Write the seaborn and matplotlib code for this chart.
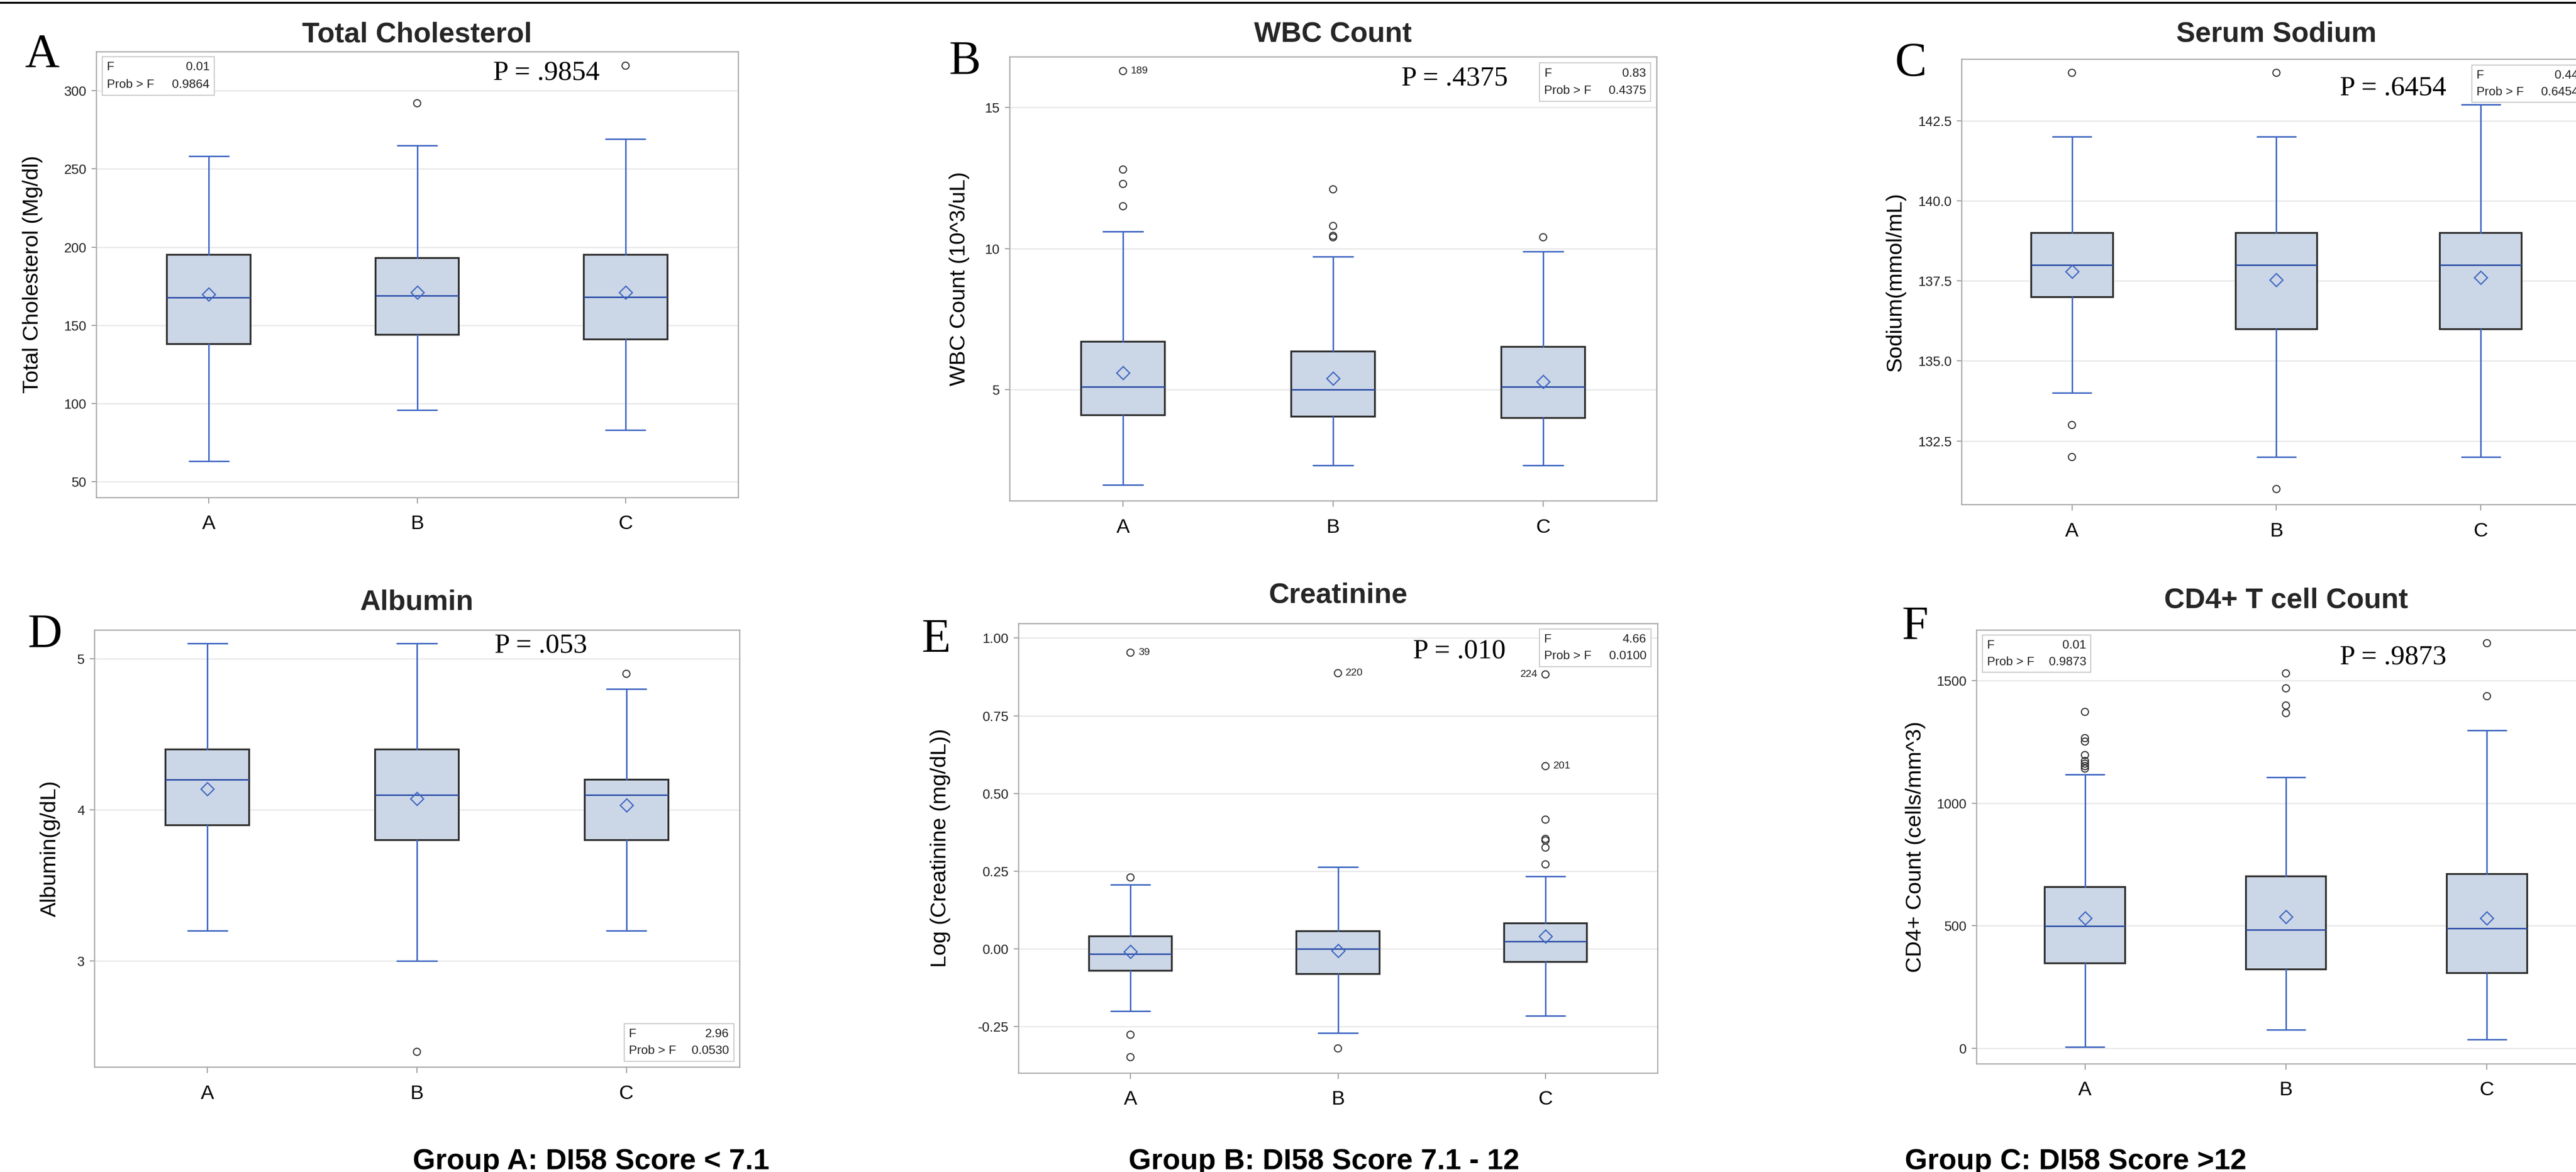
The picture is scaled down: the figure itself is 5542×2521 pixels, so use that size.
import numpy as np
import pandas as pd
import matplotlib
matplotlib.use("Agg")
import matplotlib.pyplot as plt
from matplotlib.patches import Rectangle
from matplotlib.lines import Line2D
import seaborn as sns

# ---- data ----
groups = ["A", "B", "C"]

# Total Cholesterol
chol_lo = [63.2, 96, 83]
chol_q1 = [138.2, 144, 141]
chol_med = [167.7, 169, 168]
chol_q3 = [195, 193, 195]
chol_hi = [258.2, 265, 269]
chol_mean = [170, 171, 171]
chol_out = [[], [292], [316]]

# WBC Count
wbc_lo = [1.62, 2.31, 2.31]
wbc_q1 = [4.1, 4.05, 4.0]
wbc_med = [5.1, 5.0, 5.1]
wbc_q3 = [6.7, 6.35, 6.52]
wbc_hi = [10.6, 9.71, 9.9]
wbc_mean = [5.6, 5.4, 5.28]
wbc_out = [[16.29, 12.8, 12.29, 11.5], [12.1, 10.8, 10.45, 10.4], [10.4]]
wbc_ids = [["189", "", "", ""], ["", "", "", ""], [""]]

# Serum Sodium
na_lo = [134, 132, 132]
na_q1 = [137, 136, 136]
na_med = [138, 138, 138]
na_q3 = [139, 139, 139]
na_hi = [142, 142, 143]
na_mean = [137.8, 137.53, 137.6]
na_out = [[144, 133, 132], [144, 131], []]

# Albumin
alb_lo = [3.2, 3.0, 3.2]
alb_q1 = [3.9, 3.8, 3.8]
alb_med = [4.2, 4.1, 4.1]
alb_q3 = [4.4, 4.4, 4.2]
alb_hi = [5.1, 5.1, 4.8]
alb_mean = [4.14, 4.075, 4.03]
alb_out = [[], [2.4], [4.9]]

# Creatinine (log)
cr_lo = [-0.20, -0.27, -0.215]
cr_q1 = [-0.07, -0.08, -0.042]
cr_med = [-0.016, 0.0, 0.024]
cr_q3 = [0.04, 0.057, 0.083]
cr_hi = [0.207, 0.263, 0.233]
cr_mean = [-0.008, -0.005, 0.04]
cr_out = [[0.953, 0.23, -0.276, -0.348], [0.887, -0.32],
          [0.883, 0.588, 0.416, 0.354, 0.349, 0.326, 0.272]]
cr_ids = [["39", "", "", ""], ["220", ""], ["224", "201", "", "", "", "", ""]]
left_ids = ["224"]

# CD4+ T cell count
cd4_lo = [6, 77, 37]
cd4_q1 = [347, 323, 308]
cd4_med = [498, 484, 490]
cd4_q3 = [658, 701, 711]
cd4_hi = [1116, 1105, 1297]
cd4_mean = [532, 537, 532]
cd4_out = [[1372, 1265, 1251, 1196, 1172, 1161, 1151, 1141],
           [1529, 1468, 1398, 1367], [1652, 1436]]

letters = ["A", "B", "C", "D", "E", "F"]
titles = ["Total Cholesterol", "WBC Count", "Serum Sodium",
          "Albumin", "Creatinine", "CD4+ T cell Count"]
ylabels = ["Total Cholesterol (Mg/dl)", "WBC Count (10^3/uL)", "Sodium(mmol/mL)",
           "Albumin(g/dL)", "Log (Creatinine (mg/dL))", "CD4+ Count (cells/mm^3)"]
yticks = [[50, 100, 150, 200, 250, 300], [5, 10, 15],
          [132.5, 135.0, 137.5, 140.0, 142.5], [3, 4, 5],
          [-0.25, 0.0, 0.25, 0.5, 0.75, 1.0], [0, 500, 1000, 1500]]
yfmt = ["{:.0f}", "{:.0f}", "{:.1f}", "{:.0f}", "{:.2f}", "{:.0f}"]
ylims = [(40, 325), (1.06, 16.8), (130.52, 144.43), (2.30, 5.19),
         (-0.399, 1.047), (-62, 1706)]
f_values = ["0.01", "0.83", "0.44", "2.96", "4.66", "0.01"]
f_probs = ["0.9864", "0.4375", "0.6454", "0.0530", "0.0100", "0.9873"]
p_texts = ["P = .9854", "P = .4375", "P = .6454", "P = .053", "P = .010", "P = .9873"]
group_labels = ["Group A: DI58 Score < 7.1", "Group B: DI58 Score 7.1 - 12",
                "Group C: DI58 Score >12"]

stats_sets = [
    (chol_lo, chol_q1, chol_med, chol_q3, chol_hi, chol_mean, chol_out, None),
    (wbc_lo, wbc_q1, wbc_med, wbc_q3, wbc_hi, wbc_mean, wbc_out, wbc_ids),
    (na_lo, na_q1, na_med, na_q3, na_hi, na_mean, na_out, None),
    (alb_lo, alb_q1, alb_med, alb_q3, alb_hi, alb_mean, alb_out, None),
    (cr_lo, cr_q1, cr_med, cr_q3, cr_hi, cr_mean, cr_out, cr_ids),
    (cd4_lo, cd4_q1, cd4_med, cd4_q3, cd4_hi, cd4_mean, cd4_out, None),
]

# ---- layout (pixel boxes in the 5542 x 2521 canvas) ----
W, H = 5542, 2521
axes_px = [(207, 111, 1588, 1070), (2172, 122, 3564, 1077), (4220, 127, 5575, 1085),
           (203, 1355, 1591, 2295), (2191, 1341, 3566, 2308), (4252, 1355, 5584, 2288)]
letter_px = [(54, 145), (2042, 159), (4077, 163), (60, 1392), (1983, 1402), (4092, 1373)]
title_pad = [15, 23, 27, 31, 32, 34]
ylabel_x = [-0.083, -0.062, -0.089, -0.053, -0.106, -0.082]
p_pos = [(0.701, 0.952), (0.688, 0.95), (0.685, 0.934),
         (0.692, 0.963), (0.69, 0.937), (0.673, 0.936)]
fbox = [(0.0094, 0.184, 0.9885, 0.902), (0.819, 0.991, 0.986, 0.90),
        (0.81, 0.987, 0.986, 0.903), (0.821, 0.991, 0.099, 0.013),
        (0.815, 0.99, 0.988, 0.904), (0.0098, 0.185, 0.988, 0.902)]
group_label_x = [1272, 2848, 4465]

BLUE = "#3E66C2"
MED_BLUE = "#2C4EA8"
BOX_FILL = "#CBD6E6"
BOX_EDGE = "#2E2E2E"
OUT_COL = "#333333"

sns.set_theme(style="whitegrid")
plt.rcParams["font.family"] = ["Liberation Sans", "DejaVu Sans"]
SERIF = ["Liberation Serif", "DejaVu Serif"]

fig = plt.figure(figsize=(W / 100, H / 100), dpi=100)
fig.patch.set_facecolor("white")

for i, (lo, q1, med, q3, hi, mean, out, ids) in enumerate(stats_sets):
    x0, y0, x1, y1 = axes_px[i]
    ax = fig.add_axes([x0 / W, 1 - y1 / H, (x1 - x0) / W, (y1 - y0) / H])
    ax.set_facecolor("white")

    # means (diamonds) via seaborn
    mean_df = pd.DataFrame({"group": groups, "value": mean})
    sns.pointplot(data=mean_df, x="group", y="value", order=groups, errorbar=None,
                  linestyle="none", marker="D", markersize=14, markerfacecolor="none",
                  markeredgewidth=1.9, color=BLUE, zorder=6, ax=ax)

    # outliers via seaborn
    out_df = pd.DataFrame([(g, v) for g, vals in zip(groups, out) for v in vals],
                          columns=["group", "value"])
    n_before = len(ax.collections)
    sns.stripplot(data=out_df, x="group", y="value", order=groups, jitter=False,
                  size=11, linewidth=1.7, color=OUT_COL, edgecolor=OUT_COL,
                  zorder=5, ax=ax)
    for coll in ax.collections[n_before:]:
        coll.set_facecolor("none")
        coll.set_edgecolor(OUT_COL)

    # boxes from summary statistics
    stats = [dict(med=med[k], q1=q1[k], q3=q3[k], whislo=lo[k], whishi=hi[k], label=g)
             for k, g in enumerate(groups)]
    ax.bxp(stats, positions=range(len(groups)), widths=0.4, capwidths=0.19,
           showfliers=False, patch_artist=True, manage_ticks=False,
           boxprops=dict(facecolor=BOX_FILL, edgecolor=BOX_EDGE, linewidth=2.8),
           whiskerprops=dict(color=BLUE, linewidth=2.3),
           capprops=dict(color=BLUE, linewidth=2.3),
           medianprops=dict(color=MED_BLUE, linewidth=2.3))

    # outlier id labels
    if ids is not None:
        for g, vals, labs in zip(groups, out, ids):
            for v, lab in zip(vals, labs):
                if lab:
                    left = lab in left_ids
                    ax.annotate(lab, (groups.index(g), v), xytext=(-12 if left else 12, 0),
                                textcoords="offset points", ha="right" if left else "left",
                                va="center", fontsize=16, color="#222222")

    ax.set_xlim(-0.54, 2.54)
    ax.set_ylim(*ylims[i])
    ax.set_yticks(yticks[i])
    ax.set_yticklabels([yfmt[i].format(t) for t in yticks[i]])
    ax.set_xlabel("")
    ax.set_ylabel(ylabels[i], fontsize=34, color="black")
    ax.yaxis.set_label_coords(ylabel_x[i], 0.5)
    ax.set_title(titles[i], fontsize=44, fontweight="bold", pad=title_pad[i])

    ax.grid(False)
    ax.yaxis.grid(True, color="#E6E6E6", linewidth=1.8)
    ax.set_axisbelow(True)
    for sp in ax.spines.values():
        sp.set_visible(True)
        sp.set_color("#A8A8A8")
        sp.set_linewidth(1.8)
    ax.tick_params(axis="y", length=7, width=1.6, color="#9A9A9A", pad=8,
                   labelsize=21, labelcolor="#222222", left=True)
    ax.tick_params(axis="x", length=9, width=1.6, color="#9A9A9A", pad=18,
                   labelsize=31, labelcolor="black", bottom=True)

    # ANOVA inset box
    bx0, bx1, btop, bbot = fbox[i]
    ax.add_patch(Rectangle((bx0, bbot), bx1 - bx0, btop - bbot, transform=ax.transAxes,
                           facecolor="white", edgecolor="#C8C8C8", linewidth=1.6,
                           zorder=7, clip_on=False))
    padx = 0.0075
    row1 = btop - 0.27 * (btop - bbot)
    row2 = btop - 0.72 * (btop - bbot)
    kw = dict(transform=ax.transAxes, fontsize=19, color="#222222", va="center",
              zorder=8, clip_on=False)
    ax.text(bx0 + padx, row1, "F", ha="left", **kw)
    ax.text(bx1 - padx, row1, f_values[i], ha="right", **kw)
    ax.text(bx0 + padx, row2, "Prob > F", ha="left", **kw)
    ax.text(bx1 - padx, row2, f_probs[i], ha="right", **kw)

    # P-value annotation
    ax.text(p_pos[i][0], p_pos[i][1], p_texts[i], transform=ax.transAxes,
            ha="center", va="center", fontsize=43, family=SERIF, color="black", zorder=8)

    # panel letter
    lx, ly = letter_px[i]
    fig.text(lx / W, 1 - ly / H, letters[i], ha="left", va="baseline",
             fontsize=74, family=SERIF, color="black")

# group legend text along the bottom
for gx, lab in zip(group_label_x, group_labels):
    fig.text(gx / W, 1 - 2515 / H, lab, ha="center", va="baseline",
             fontsize=45, fontweight="bold", color="black")

# black rule across the top
fig.add_artist(Line2D([0, 1], [1 - 6 / H, 1 - 6 / H], transform=fig.transFigure,
                      color="black", linewidth=3))

fig.savefig("out.png", dpi=100, facecolor="white")
